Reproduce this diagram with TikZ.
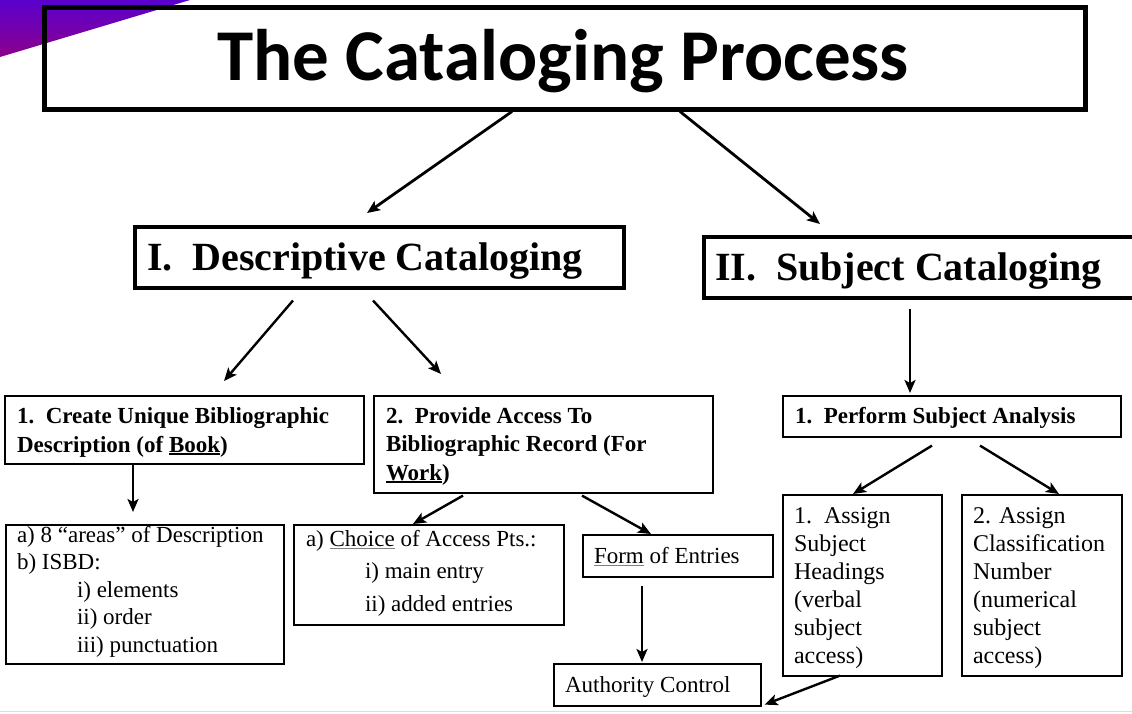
\documentclass[tikz,border=0pt]{standalone}
\usepackage{fontspec}
\setmainfont{Liberation Serif}
\newfontfamily\titlefont{Carlito}
\usetikzlibrary{arrows.meta}
\newcommand\grul[1]{\setbox0\hbox{#1}\rlap{\textcolor{gray}{\rule[-2.6pt]{\wd0}{1pt}}}#1}
\newcommand\bul[1]{\setbox0\hbox{#1}\rlap{\rule[-2.8pt]{\wd0}{1.4pt}}#1}
\tikzset{
  bigbox/.style={draw, line width=3.5pt, anchor=north west, inner sep=0pt},
  smallbox/.style={draw, line width=1.6pt, anchor=north west, inner sep=0pt},
  txt/.style={anchor=base west, inner sep=0pt, outer sep=0pt},
  arr/.style={line width=2.4pt, -{Stealth[length=13pt,width=11pt,inset=3pt]}},
}
\begin{document}
\begin{tikzpicture}[x=1pt,y=-1pt]
\useasboundingbox (0,0) rectangle (1132,713);
\clip (0,0) rectangle (1132,713);
% decorations
\shade[top color={rgb,255:red,90;green,0;blue,205}, bottom color={rgb,255:red,140;green,0;blue,140}] (0,0) -- (190,0) -- (0,57) -- cycle;
\draw[color={rgb,255:red,255;green,225;blue,110}, line width=1.6pt] (0,711.5) -- (1132,711.5);

% boxes
\node[bigbox, line width=4.5pt, minimum width=1041pt, minimum height=102pt] (title) at (42,5) {};
\node[bigbox, minimum width=489pt, minimum height=61pt] (descr) at (133,225) {};
\node[bigbox, minimum width=460pt, minimum height=61pt] (subj) at (702,235) {};
\node[smallbox, minimum width=359pt, minimum height=68pt] (create) at (4,395) {};
\node[smallbox, minimum width=339pt, minimum height=97pt] (provide) at (373,395) {};
\node[smallbox, minimum width=278pt, minimum height=139pt] (areas) at (5,524) {};
\node[smallbox, minimum width=270pt, minimum height=100pt] (choice) at (293,524) {};
\node[smallbox, minimum width=190pt, minimum height=42pt] (form) at (582,534) {};
\node[smallbox, minimum width=207pt, minimum height=42pt] (auth) at (553,663) {};
\node[smallbox, minimum width=338pt, minimum height=41pt] (perform) at (782,395) {};
\node[smallbox, minimum width=159pt, minimum height=181pt] (assignA) at (782,494) {};
\node[smallbox, minimum width=160pt, minimum height=181pt] (assignB) at (961,494) {};

% texts
\node[anchor=base, inner sep=0pt] (ttitle) at (563,80) {\titlefont\fontsize{73}{80}\selectfont\bfseries The Cataloging Process};
\node[txt] (tdescr) at (147,270) {\fontsize{40}{44}\selectfont\bfseries I.\ \ Descriptive Cataloging};
\node[txt] (tsubj) at (715,280) {\fontsize{40}{44}\selectfont\bfseries II.\ \ Subject Cataloging};
\node[txt] (tcreate) at (17,423) {\parbox[t]{345pt}{\fontsize{23}{29}\selectfont\bfseries 1.\ \ Create Unique Bibliographic\\Description (of \bul{Book})}};
\node[txt] (tprovide) at (386,423) {\parbox[t]{325pt}{\fontsize{23}{28.5}\selectfont\bfseries 2.\ \ Provide Access To\\Bibliographic Record (For\\\bul{Work})}};
\node[txt] (tareas) at (17,542) {\parbox[t]{265pt}{\fontsize{23}{27.6}\selectfont a) 8 “areas” of Description\\b) ISBD:\\\hspace*{60pt}i) elements\\\hspace*{60pt}ii) order\\\hspace*{60pt}iii) punctuation}};
\node[txt] (tchoice) at (306,546) {\parbox[t]{255pt}{\fontsize{23}{32.5}\selectfont a) \grul{Choice} of Access Pts.:\\\hspace*{59pt}i) main entry\\\hspace*{59pt}ii) added entries}};
\node[txt] (tform) at (594,563) {\fontsize{23}{27}\selectfont\grul{Form} of Entries};
\node[txt] (tauth) at (565,692) {\fontsize{23}{27}\selectfont Authority Control};
\node[txt] (tperform) at (795,423) {\fontsize{23}{27}\selectfont\bfseries 1.\ \ Perform Subject Analysis};
\node[txt] (tassignA) at (794,523) {\parbox[t]{145pt}{\fontsize{24}{28}\selectfont 1.\ \ Assign\\Subject\\Headings\\(verbal\\subject\\access)}};
\node[txt] (tassignB) at (973,523) {\parbox[t]{145pt}{\fontsize{24}{28}\selectfont 2. Assign\\Classification\\Number\\(numerical\\subject\\access)}};

% connectors
\draw[arr, line width=2.8pt] ([shift={(470,0)}]title.south west) -- ([shift={(234,-12)}]descr.north west);
\draw[arr, line width=2.8pt] ([shift={(638,0)}]title.south west) -- ([shift={(118,-11)}]subj.north west);
\draw[arr] ([shift={(160,11)}]descr.south west) -- ([shift={(220,-14)}]create.north west);
\draw[arr] ([shift={(240,11)}]descr.south west) -- ([shift={(68,-21)}]provide.north west);
\draw[arr] ([shift={(208,9)}]subj.south west) -- ([shift={(128,-2)}]perform.north west);
\draw[arr] ([shift={(129,0)}]create.south west) -- ([shift={(128,-12)}]areas.north west);
\draw[arr] ([shift={(90,2)}]provide.south west) -- ([shift={(120,0)}]choice.north west);
\draw[arr] ([shift={(209,2)}]provide.south west) -- ([shift={(69,0)}]form.north west);
\draw[arr] ([shift={(60,8)}]form.south west) -- ([shift={(89,-1)}]auth.north west);
\draw[arr] ([shift={(150,8)}]perform.south west) -- ([shift={(71,0)}]assignA.north west);
\draw[arr] ([shift={(198,8)}]perform.south west) -- ([shift={(98,0)}]assignB.north west);
\draw[arr] ([shift={(58,-1)}]assignA.south west) -- ([shift={(3,-2)}]auth.south east);
\end{tikzpicture}
\end{document}
